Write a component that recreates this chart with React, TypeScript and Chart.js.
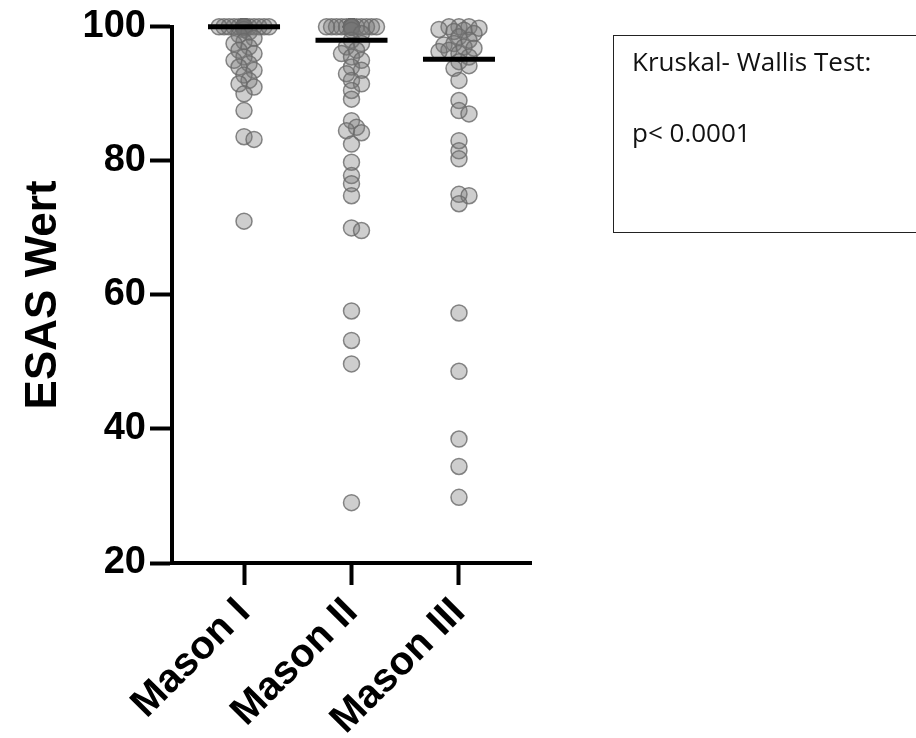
import { useEffect, useRef } from "react";
import { Chart, registerables } from "chart.js";

Chart.register(...registerables);

// Groups on the x axis
const categories = ["Mason I", "Mason II", "Mason III"];

// ESAS scores per Mason grade
const masonI = [
  100, 100, 100, 100, 100, 100, 100, 100, 100, 100, 100, 100, 100, 100,
  100, 100, 100, 100, 100, 100, 100, 100, 100, 100, 100, 100, 100, 100,
  99.6, 99.2, 98.8, 98.3, 97.8, 97.5, 97.0, 96.5, 96.0, 95.5, 95.0, 94.5,
  94.0, 93.5, 92.8, 92.0, 91.5, 91.0, 90.0, 87.5, 83.6, 83.2, 71.0,
];
const masonII = [
  100, 100, 100, 100, 100, 100, 100, 100, 100, 100, 100, 100, 100,
  100, 100, 100, 100, 100, 100, 100, 100, 100, 100, 100, 100, 100,
  99.5, 99.0, 98.0, 97.5, 97.0, 96.5, 96.0, 95.5, 95.0, 94.0, 93.5, 93.0,
  92.0, 91.5, 90.5, 89.2, 86.0, 85.0, 84.5, 84.2, 82.5, 79.8, 77.8, 76.6,
  74.8, 70.0, 69.6, 57.6, 53.2, 49.7, 29.0,
];
const masonIII = [
  100, 100, 100, 99.8, 99.6, 99.5, 99.3, 99.0, 98.5, 98.0, 97.5, 97.3,
  97.0, 96.8, 96.5, 96.3, 96.0, 95.5, 94.8, 94.2, 93.8, 92.0, 89.0, 87.5,
  87.0, 83.0, 81.5, 80.3, 75.0, 74.8, 73.6, 57.3, 48.6, 38.5, 34.4, 29.8,
];
const groups = [masonI, masonII, masonIII];

// y axis
const yMin = 20;
const yMax = 100;
const yStep = 20;
const yTitle = "ESAS Wert";

// Test annotation
const testName = "Kruskal- Wallis Test:";
const testResult = "p< 0.0001";

function median(values: number[]): number {
  const s = [...values].sort((a, b) => a - b);
  const m = Math.floor(s.length / 2);
  return s.length % 2 ? s[m] : (s[m - 1] + s[m]) / 2;
}

// Simple deterministic beeswarm: spreads points of similar value sideways.
const PX_PER_GROUP = 107.5;
const PX_PER_UNIT = 6.75;
function swarmOffsets(values: number[], minDist = 7, step = 5, maxOff = 28): number[] {
  const placed: { x: number; y: number }[] = [];
  const order = values.map((_, i) => i).sort((a, b) => values[b] - values[a]);
  const offs = new Array(values.length).fill(0);
  for (const i of order) {
    const y = values[i] * PX_PER_UNIT;
    let best = 0;
    let bestScore = -1;
    search: for (let k = 0; k * step <= maxOff; k++) {
      for (const sgn of k === 0 ? [1] : [1, -1]) {
        const x = sgn * k * step;
        let dmin = Infinity;
        for (const p of placed) dmin = Math.min(dmin, Math.hypot(p.x - x, p.y - y));
        if (dmin >= minDist) {
          best = x;
          break search;
        }
        if (dmin > bestScore) {
          bestScore = dmin;
          best = x;
        }
      }
    }
    placed.push({ x: best, y });
    offs[i] = best / PX_PER_GROUP;
  }
  return offs;
}

const FONT = "'Liberation Sans', Arial, Helvetica, sans-serif";

export default function App() {
  const canvasRef = useRef<HTMLCanvasElement | null>(null);

  useEffect(() => {
    if (!canvasRef.current) return;

    const scatterSets = groups.map((vals, gi) => {
      const offs = swarmOffsets(vals);
      return {
        type: "scatter" as const,
        label: categories[gi],
        data: vals.map((v, i) => ({ x: gi + 1 + offs[i], y: v })),
        backgroundColor: "rgba(120,120,120,0.36)",
        borderColor: "rgba(105,105,105,0.8)",
        borderWidth: 1.5,
        pointRadius: 8,
        pointHoverRadius: 8,
        clip: false,
        order: 2,
      };
    });

    const medianSets = groups.map((vals, gi) => {
      const m = median(vals);
      return {
        type: "line" as const,
        label: categories[gi] + " median",
        data: [
          { x: gi + 1 - 0.335, y: m },
          { x: gi + 1 + 0.335, y: m },
        ],
        borderColor: "#000",
        borderWidth: 5,
        borderCapStyle: "butt" as const,
        pointRadius: 0,
        fill: false,
        clip: false,
        order: 1,
      };
    });

    const chart = new Chart(canvasRef.current, {
      type: "scatter",
      data: { datasets: [...scatterSets, ...medianSets] as any },
      options: {
        animation: false,
        responsive: false,
        layout: { padding: { left: 0, top: 22, right: 385, bottom: 0 } },
        plugins: { legend: { display: false }, tooltip: { enabled: false } },
        scales: {
          x: {
            type: "linear",
            position: "bottom",
            min: 0.33,
            max: 3.67,
            afterBuildTicks: (s: any) => {
              s.ticks = categories.map((_, i) => ({ value: i + 1 }));
            },
            afterFit: (s: any) => {
              s.height = 175;
            },
            ticks: {
              autoSkip: false,
              maxRotation: 45,
              minRotation: 45,
              padding: 4,
              color: "#000",
              font: { family: FONT, weight: "bold", size: 40 },
              callback: (v: any) => categories[Math.round(Number(v)) - 1] ?? "",
            },
            grid: {
              drawOnChartArea: false,
              drawTicks: true,
              tickLength: 22,
              tickWidth: 4,
              tickColor: "#000",
            },
            border: { display: true, width: 4, color: "#000" },
          },
          y: {
            type: "linear",
            min: yMin,
            max: yMax,
            afterFit: (s: any) => {
              s.width = 172;
            },
            ticks: {
              stepSize: yStep,
              padding: 4,
              color: "#000",
              font: { family: FONT, weight: "bold", size: 38 },
            },
            grid: {
              drawOnChartArea: false,
              drawTicks: true,
              tickLength: 22,
              tickWidth: 4,
              tickColor: "#000",
            },
            border: { display: true, width: 4, color: "#000" },
            title: {
              display: true,
              text: yTitle,
              color: "#000",
              font: { family: FONT, weight: "bold", size: 44 },
              padding: { top: 17, bottom: 0 },
            },
          },
        },
      },
    });

    return () => chart.destroy();
  }, []);

  return (
    <div style={{ position: "absolute", left: 0, top: 0, width: 916, height: 738, background: "#fff", overflow: "hidden" }}>
      <canvas ref={canvasRef} width={916} height={738} style={{ position: "absolute", left: 0, top: 0 }} />
      <div
        style={{
          position: "absolute",
          left: 613,
          top: 35,
          width: 330,
          height: 198,
          boxSizing: "border-box",
          border: "1.5px solid #222",
          fontFamily: "'Open Sans', 'Noto Sans', sans-serif",
          fontSize: 26,
          lineHeight: "30px",
          color: "#111",
        }}
      >
        <div style={{ position: "absolute", left: 18, top: 10, whiteSpace: "nowrap" }}>{testName}</div>
        <div style={{ position: "absolute", left: 18, top: 81, whiteSpace: "nowrap" }}>{testResult}</div>
      </div>
    </div>
  );
}
